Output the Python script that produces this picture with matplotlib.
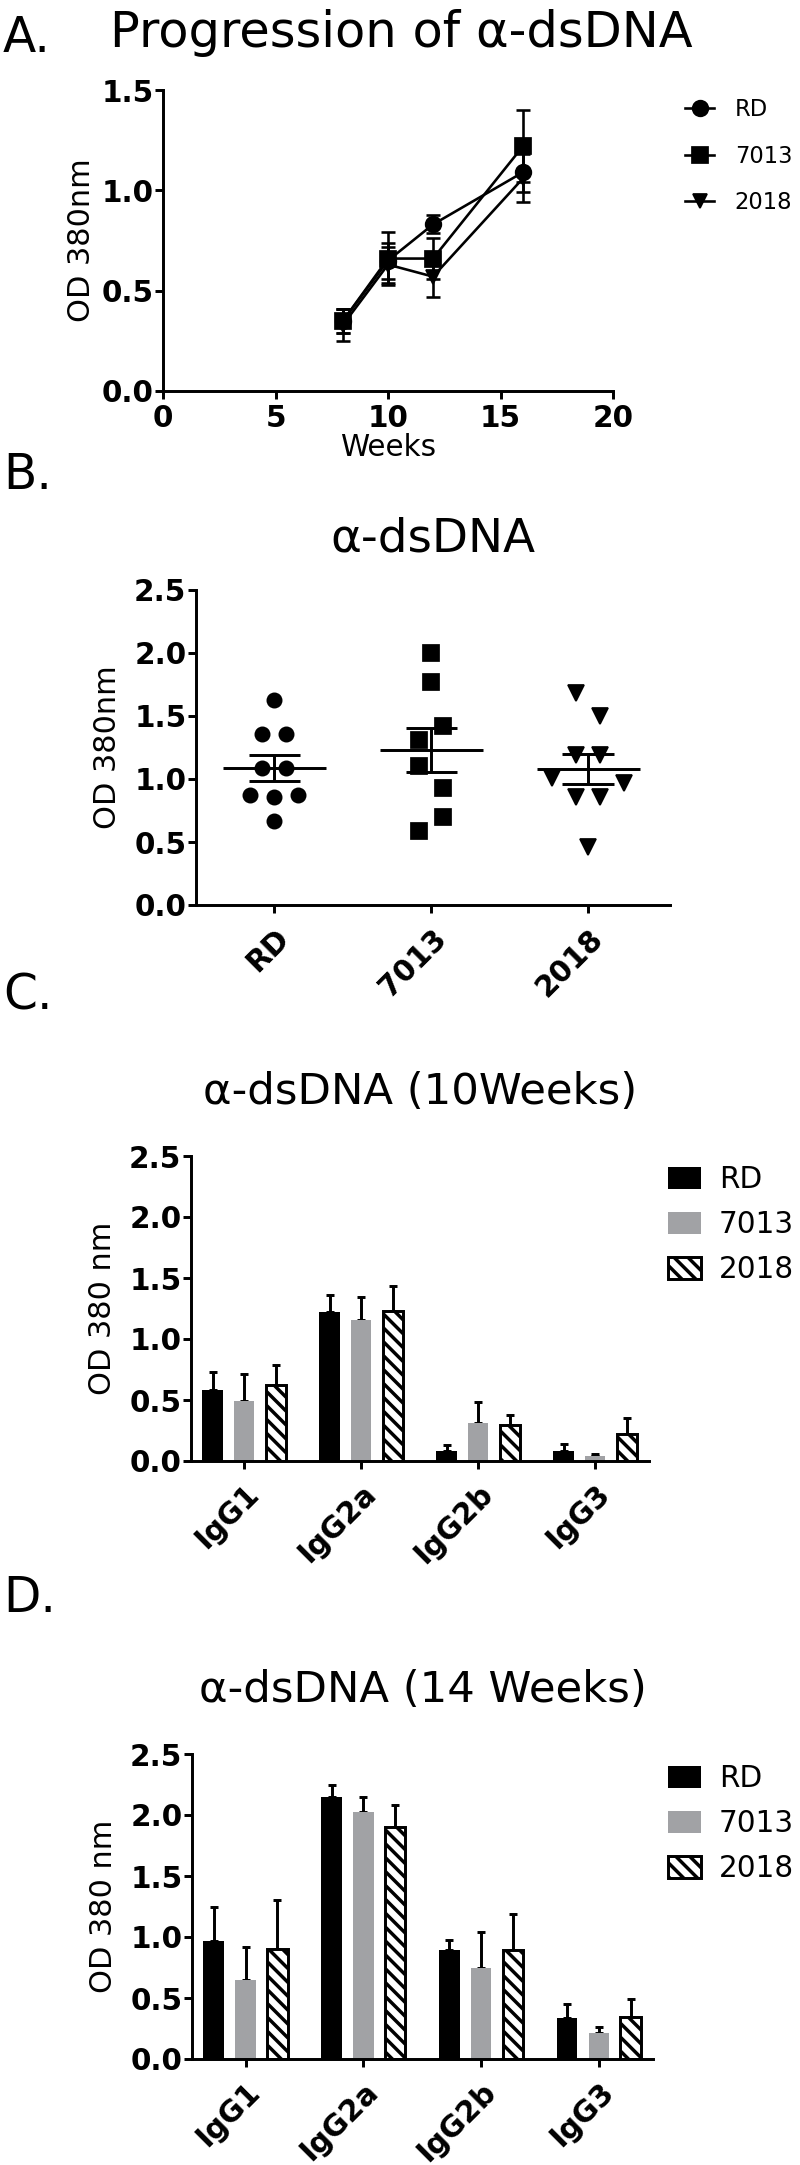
import numpy as np
import matplotlib
matplotlib.use('Agg')
import matplotlib.pyplot as plt
from matplotlib.ticker import FormatStrFormatter

plt.rcParams['font.family'] = ['DejaVu Sans']
plt.rcParams['hatch.linewidth'] = 2.0
plt.rcParams['hatch.color'] = 'black'

# ---- data ----
weeks = [8, 10, 12, 16]
prog_rd = [0.35, 0.65, 0.83, 1.09]
prog_rd_sem = [0.06, 0.09, 0.045, 0.10]
prog_7013 = [0.35, 0.66, 0.66, 1.22]
prog_7013_sem = [0.06, 0.13, 0.10, 0.18]
prog_2018 = [0.33, 0.63, 0.57, 1.06]
prog_2018_sem = [0.08, 0.09, 0.10, 0.12]

groups = ['RD', '7013', '2018']
dots_rd = [1.63, 1.36, 1.36, 1.09, 1.09, 0.87, 0.86, 0.87, 0.67]
dots_7013 = [2.00, 1.77, 1.31, 1.42, 1.10, 0.93, 0.59, 0.70]
dots_2018 = [1.68, 1.50, 1.19, 1.19, 1.005, 0.86, 0.86, 0.966, 0.463]

igg = ['IgG1', 'IgG2a', 'IgG2b', 'IgG3']
w10_rd = [0.58, 1.22, 0.08, 0.08]
w10_rd_err = [0.15, 0.14, 0.05, 0.06]
w10_7013 = [0.49, 1.155, 0.31, 0.04]
w10_7013_err = [0.22, 0.19, 0.17, 0.02]
w10_2018 = [0.625, 1.23, 0.295, 0.22]
w10_2018_err = [0.16, 0.205, 0.08, 0.13]

w14_rd = [0.97, 2.15, 0.895, 0.335]
w14_rd_err = [0.28, 0.10, 0.08, 0.115]
w14_7013 = [0.65, 2.025, 0.745, 0.215]
w14_7013_err = [0.265, 0.12, 0.30, 0.05]
w14_2018 = [0.905, 1.90, 0.895, 0.345]
w14_2018_err = [0.40, 0.18, 0.29, 0.15]

W, H, DPI = 800, 2165, 125
GRAY = '#a1a2a5'
LW = 1.7


def px_box(left, top, right, bottom):
    # pixel box (from top-left) -> figure fraction
    return [left / W, 1 - bottom / H, (right - left) / W, (bottom - top) / H]


def fx(x):
    return x / W


def fy(y):
    return 1 - y / H


def style(ax):
    for s in ['top', 'right']:
        ax.spines[s].set_visible(False)
    for s in ['left', 'bottom']:
        ax.spines[s].set_linewidth(LW)
    ax.tick_params(width=LW, length=4.6, direction='out', labelsize=17, pad=1)
    ax.yaxis.set_major_formatter(FormatStrFormatter('%.1f'))


def swarm(vals, bin_h=0.185, step=0.153):
    # spread points of similar value sideways, Prism-style rows
    vals = np.asarray(vals)
    order = np.argsort(vals, kind='stable')
    off = np.zeros(len(vals))
    i = 0
    while i < len(order):
        j = i
        while j + 1 < len(order) and vals[order[j + 1]] - vals[order[i]] < bin_h:
            j += 1
        members = sorted(order[i:j + 1])
        n = len(members)
        for k, m in enumerate(members):
            off[m] = (k - (n - 1) / 2) * step
        i = j + 1
    return off


fig = plt.figure(figsize=(W / DPI, H / DPI), dpi=DPI)

# panel letters
for letter, base in zip(['A.', 'B.', 'C.', 'D.'], [52, 489, 1010, 1612]):
    fig.text(fx(3), fy(base), letter, fontsize=28, va='baseline', ha='left')

# ---- A: progression ----
axA = fig.add_axes(px_box(163, 90, 613, 391))
series = [(prog_rd, prog_rd_sem, 'o', 9.0, 'RD'),
          (prog_7013, prog_7013_sem, 's', 9.0, '7013'),
          (prog_2018, prog_2018_sem, 'v', 8.6, '2018')]
for vals, sem, mk, ms, lbl in series:
    axA.errorbar(weeks, vals, yerr=sem, fmt='none', ecolor='black',
                 elinewidth=1.5, capsize=4.3, capthick=1.5, clip_on=False, zorder=2)
    axA.plot(weeks, vals, color='black', lw=1.5, marker=mk, ms=ms,
             label=lbl, clip_on=False, zorder=3)
axA.set_xlim(0, 20)
axA.set_ylim(0, 1.5)
axA.set_xticks([0, 5, 10, 15, 20])
axA.set_yticks([0, 0.5, 1.0, 1.5])
style(axA)
axA.xaxis.set_major_formatter(FormatStrFormatter('%d'))
axA.tick_params(axis='x', pad=3)
plt.setp(axA.get_xticklabels() + axA.get_yticklabels(), fontweight='bold')
axA.set_xlabel('Weeks', fontsize=17, labelpad=0)
axA.set_ylabel('OD 380nm', fontsize=17.5, labelpad=3)
axA.set_title('Progression of α-dsDNA', fontsize=28.5, pad=25, x=0.53)
axA.legend(loc='upper left', bbox_to_anchor=(fx(685), fy(98)),
           bbox_transform=fig.transFigure, frameon=False, fontsize=13,
           borderpad=0, borderaxespad=0, handlelength=1.3,
           handletextpad=0.9, labelspacing=1.05)

# ---- B: dot plot ----
axB = fig.add_axes(px_box(196, 590, 670, 905))
for i, (vals, mk, ms) in enumerate([(dots_rd, 'o', 8.2),
                                    (dots_7013, 's', 9.2),
                                    (dots_2018, 'v', 9.4)]):
    vals = np.asarray(vals)
    axB.plot(i + swarm(vals), vals, linestyle='none', marker=mk, ms=ms,
             color='black', clip_on=False, zorder=2)
    mean = vals.mean()
    sem = vals.std(ddof=1) / np.sqrt(len(vals))
    axB.hlines(mean, i - 0.33, i + 0.33, color='black', lw=LW, zorder=3)
    axB.hlines([mean - sem, mean + sem], i - 0.165, i + 0.165,
               color='black', lw=LW, zorder=3)
    axB.vlines(i, mean - sem, mean + sem, color='black', lw=LW, zorder=3)
axB.set_xlim(-0.5, 2.52)
axB.set_ylim(0, 2.5)
axB.set_xticks(range(len(groups)))
axB.set_xticklabels(groups)
axB.set_yticks(np.arange(0, 2.51, 0.5))
style(axB)
plt.setp(axB.get_yticklabels(), fontweight='bold')
plt.setp(axB.get_xticklabels(), fontweight='bold', rotation=45, ha='right',
         rotation_mode='anchor', fontsize=17)
axB.tick_params(axis='x', pad=6)
axB.set_ylabel('OD 380nm', fontsize=17.5, labelpad=7)
axB.set_title('α-dsDNA', fontsize=27, pad=22)


# ---- C / D: grouped bars ----
def bar_panel(box, rd, rd_e, g7013, e7013, g2018, e2018, title, legend_top):
    ax = fig.add_axes(px_box(*box))
    x = np.arange(len(igg))
    styles = [dict(color='black', edgecolor='black', lw=0),
              dict(color=GRAY, edgecolor=GRAY, lw=0),
              dict(facecolor='white', edgecolor='black', lw=LW, hatch='\\\\\\')]
    for k, (vals, errs, st, lbl) in enumerate([(rd, rd_e, styles[0], 'RD'),
                                                (g7013, e7013, styles[1], '7013'),
                                                (g2018, e2018, styles[2], '2018')]):
        pos = x + (k - 1) * 0.27
        ax.errorbar(pos, vals, yerr=[np.zeros(len(errs)), errs], fmt='none',
                    ecolor='black', elinewidth=LW, capsize=2.2, capthick=LW, zorder=1)
        ax.bar(pos, vals, width=0.175, label=lbl, zorder=2, **st)
    ax.set_xlim(-0.455, 3.46)
    ax.set_ylim(0, 2.5)
    ax.set_xticks(x)
    ax.set_xticklabels(igg)
    ax.set_yticks(np.arange(0, 2.51, 0.5))
    style(ax)
    plt.setp(ax.get_yticklabels(), fontweight='bold')
    plt.setp(ax.get_xticklabels(), fontweight='bold', rotation=45, ha='right',
             rotation_mode='anchor', fontsize=17)
    ax.tick_params(axis='x', pad=6)
    ax.set_ylabel('OD 380 nm', fontsize=17.5, labelpad=7)
    ax.set_title(title, fontsize=25, pad=30)
    ax.legend(loc='upper left', bbox_to_anchor=(fx(668), fy(legend_top)),
              bbox_transform=fig.transFigure, frameon=False, fontsize=17,
              borderpad=0, borderaxespad=0, handlelength=1.12, handleheight=0.78,
              handletextpad=0.6, labelspacing=0.55)
    return ax


bar_panel((191, 1156, 649, 1461), w10_rd, w10_rd_err, w10_7013, w10_7013_err,
          w10_2018, w10_2018_err, 'α-dsDNA (10Weeks)', 1165)
bar_panel((192, 1754, 653, 2059), w14_rd, w14_rd_err, w14_7013, w14_7013_err,
          w14_2018, w14_2018_err, 'α-dsDNA (14 Weeks)', 1764)

fig.savefig('out.png', dpi=DPI)
